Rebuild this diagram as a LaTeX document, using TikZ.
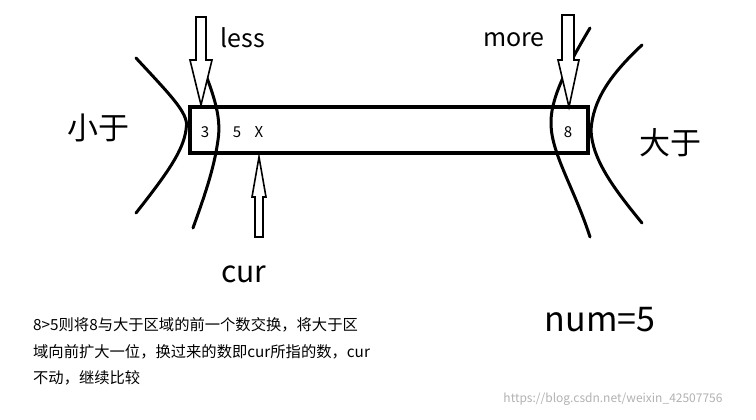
\documentclass[tikz,border=0pt]{standalone}
\usepackage{fontspec}
\setmainfont{Noto Sans CJK SC}
\begin{document}
\begin{tikzpicture}[x=1pt,y=-1pt,
 curve/.style={line width=3pt,line cap=round},
 arr/.style={line width=1.6pt,fill=white,line join=miter},
 lbl/.style={inner sep=0pt,font=\fontsize{25}{25}\selectfont},
 big/.style={inner sep=0pt,font=\fontsize{31}{31}\selectfont},
 cell/.style={inner sep=0pt,font=\fontsize{15}{15}\selectfont},
 para/.style={inner sep=0pt,anchor=west,font=\fontsize{15.3}{15}\selectfont}]
\useasboundingbox[fill=white] (0,0) rectangle (756,420);
\node[draw,line width=4pt,minimum width=398pt,minimum height=46pt,inner sep=0pt] (bar) at (389,130) {};
% left curves
\draw[curve] (136,58) .. controls (175,100) and (190,115) .. (186,130) .. controls (183,150) and (170,170) .. (136,213);
\draw[curve] (198,55) .. controls (212,90) and (222,115) .. (218,140) .. controls (214,170) and (203,200) .. (193,228);
% right curves
\draw[curve] (590,28) .. controls (565,70) and (550,100) .. (551,125) .. controls (552,155) and (575,190) .. (590,237);
\draw[curve] (642,45) .. controls (610,75) and (593,100) .. (591,130) .. controls (592,160) and (615,190) .. (642,223);
% arrows
\draw[arr] (196,17) -- (206,17) -- (206,60) -- (212,60) -- (201,105) -- (190,60) -- (196,60) -- cycle;
\draw[arr] (562,15) -- (574,15) -- (574,60) -- (579,60) -- (569,107) -- (558,60) -- (562,60) -- cycle;
\draw[arr] (255,237) -- (263,237) -- (263,197) -- (266,197) -- (259,157) -- (252,197) -- (255,197) -- cycle;
\node[lbl] (less) at (243,38) {less};
\node[lbl] (more) at (514,40) {more};
\node[big] (lt) at (98,128) {小于};
\node[big] (gt) at (670,143) {大于};
\node[cell] (c3) at (205,132) {3};
\node[cell] (c5) at (237,132) {5};
\node[cell] (cx) at (259,132) {X};
\node[cell] (c8) at (568,132) {8};
\node[inner sep=0pt,font=\fontsize{30}{30}\selectfont] (cur) at (244,274) {cur};
\node[inner sep=0pt,font=\fontsize{34}{34}\selectfont] (num) at (600,320) {num=5};
\node[para] (p1) at (33,325) {8>5则将8与大于区域的前一个数交换，将大于区}; 
\node[para] (p2) at (33,352) {域向前扩大一位，换过来的数即cur所指的数，cur};
\node[para] (p3) at (33,378) {不动，继续比较};
\node[inner sep=0pt,text=gray!60,font=\fontsize{12}{12}\selectfont] (wm) at (613,399) {https://blog.csdn.net/weixin\_42507756};
\end{tikzpicture}
\end{document}
